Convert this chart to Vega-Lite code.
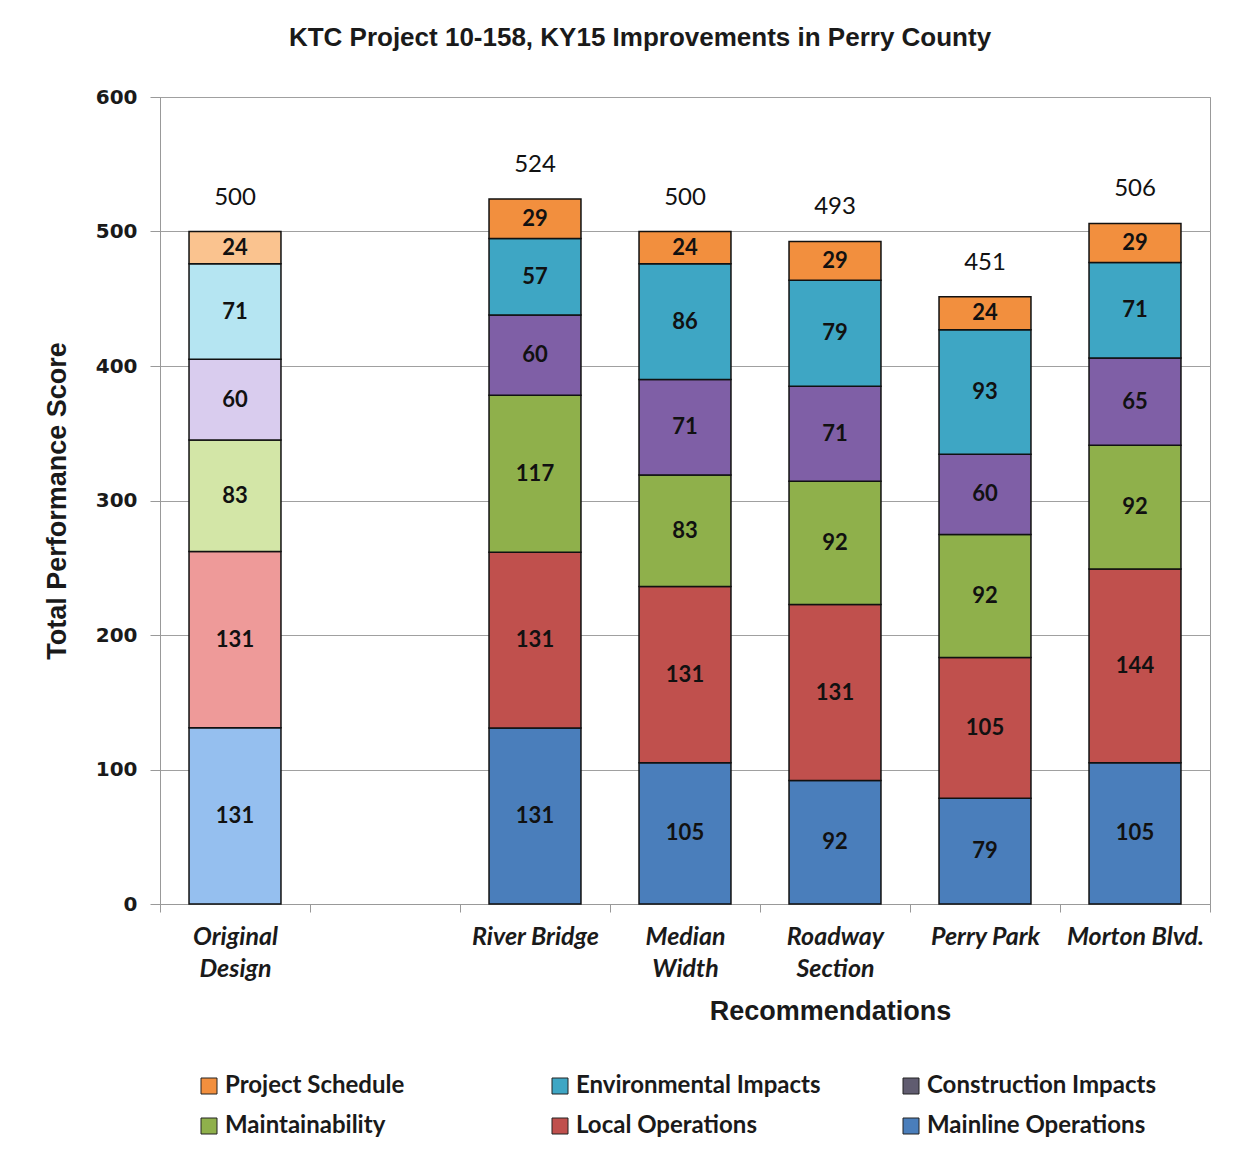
{
  "$schema": "https://vega.github.io/schema/vega-lite/v6.json",
  "width": 1050,
  "height": 807,
  "autosize": {"type": "none"},
  "padding": {"left": 160, "top": 97, "right": 43, "bottom": 250},
  "background": "white",
  "title": {
    "text": "KTC Project 10-158, KY15 Improvements in Perry County",
    "font": "Liberation Sans",
    "fontSize": 26,
    "fontWeight": "bold",
    "color": "#1a1a1a",
    "anchor": "middle",
    "frame": "group",
    "dx": -45,
    "offset": 36
  },
  "data": {
    "values": [
      {"rec": "Original|Design", "component": "Mainline Operations", "value": 131},
      {"rec": "Original|Design", "component": "Local Operations", "value": 131},
      {"rec": "Original|Design", "component": "Maintainability", "value": 83},
      {"rec": "Original|Design", "component": "Construction Impacts", "value": 60},
      {"rec": "Original|Design", "component": "Environmental Impacts", "value": 71},
      {"rec": "Original|Design", "component": "Project Schedule", "value": 24},
      {"rec": "River Bridge", "component": "Mainline Operations", "value": 130.8},
      {"rec": "River Bridge", "component": "Local Operations", "value": 130.8},
      {"rec": "River Bridge", "component": "Maintainability", "value": 116.7},
      {"rec": "River Bridge", "component": "Construction Impacts", "value": 59.7},
      {"rec": "River Bridge", "component": "Environmental Impacts", "value": 56.8},
      {"rec": "River Bridge", "component": "Project Schedule", "value": 29.4},
      {"rec": "Median|Width", "component": "Mainline Operations", "value": 105},
      {"rec": "Median|Width", "component": "Local Operations", "value": 131},
      {"rec": "Median|Width", "component": "Maintainability", "value": 83},
      {"rec": "Median|Width", "component": "Construction Impacts", "value": 71},
      {"rec": "Median|Width", "component": "Environmental Impacts", "value": 86},
      {"rec": "Median|Width", "component": "Project Schedule", "value": 24},
      {"rec": "Roadway|Section", "component": "Mainline Operations", "value": 91.8},
      {"rec": "Roadway|Section", "component": "Local Operations", "value": 130.8},
      {"rec": "Roadway|Section", "component": "Maintainability", "value": 91.7},
      {"rec": "Roadway|Section", "component": "Construction Impacts", "value": 70.7},
      {"rec": "Roadway|Section", "component": "Environmental Impacts", "value": 78.8},
      {"rec": "Roadway|Section", "component": "Project Schedule", "value": 28.8},
      {"rec": "Perry Park", "component": "Mainline Operations", "value": 78.6},
      {"rec": "Perry Park", "component": "Local Operations", "value": 104.6},
      {"rec": "Perry Park", "component": "Maintainability", "value": 91.6},
      {"rec": "Perry Park", "component": "Construction Impacts", "value": 59.6},
      {"rec": "Perry Park", "component": "Environmental Impacts", "value": 92.6},
      {"rec": "Perry Park", "component": "Project Schedule", "value": 24.4},
      {"rec": "Morton Blvd.", "component": "Mainline Operations", "value": 105},
      {"rec": "Morton Blvd.", "component": "Local Operations", "value": 144},
      {"rec": "Morton Blvd.", "component": "Maintainability", "value": 92},
      {"rec": "Morton Blvd.", "component": "Construction Impacts", "value": 65},
      {"rec": "Morton Blvd.", "component": "Environmental Impacts", "value": 71},
      {"rec": "Morton Blvd.", "component": "Project Schedule", "value": 29}
    ]
  },
  "transform": [
    {"calculate": "indexof(['Mainline Operations','Local Operations','Maintainability','Construction Impacts','Environmental Impacts','Project Schedule'], datum.component)", "as": "rank"},
    {"calculate": "datum.rec === 'Original|Design' ? datum.component + '|light' : datum.component + '|dark'", "as": "key"}
  ],
  "encoding": {
    "x": {
      "field": "rec",
      "type": "nominal",
      "sort": null,
      "scale": {
        "domain": ["Original|Design", " ", "River Bridge", "Median|Width", "Roadway|Section", "Perry Park", "Morton Blvd."],
        "paddingInner": 0,
        "paddingOuter": 0
      },
      "axis": {
        "title": "Recommendations",
        "titleFont": "Liberation Sans",
        "titleFontSize": 27,
        "titleFontWeight": "bold",
        "titleColor": "#1a1a1a",
        "titleX": 670,
        "titleY": 107,
        "titleBaseline": "middle",
        "titleAlign": "center",
        "labelExpr": "split(datum.label, '|')",
        "labelFont": "Lato",
        "labelFontStyle": "italic",
        "labelFontWeight": "bold",
        "labelFontSize": 25,
        "labelLineHeight": 32,
        "labelColor": "#1a1a1a",
        "labelAngle": 0,
        "labelPadding": 12,
        "tickSize": 8,
        "tickBand": "extent",
        "domainColor": "#999999",
        "tickColor": "#999999",
        "grid": false
      }
    }
  },
  "layer": [
    {
      "transform": [
        {"stack": "value", "groupby": ["rec"], "sort": [{"field": "rank", "order": "ascending"}], "as": ["y0", "y1"]}
      ],
      "mark": {"type": "bar", "stroke": "#111111", "strokeWidth": 1.5, "width": {"band": 0.613}},
      "encoding": {
        "y": {
          "field": "y0",
          "type": "quantitative",
          "scale": {"domain": [0, 600]},
          "axis": {
            "title": "Total Performance Score",
            "titleFont": "Liberation Sans",
            "titleFontSize": 27,
            "titleFontWeight": "bold",
            "titleColor": "#1a1a1a",
            "titleX": -103,
            "titleBaseline": "middle",
            "values": [0, 100, 200, 300, 400, 500, 600],
            "labelFont": "DejaVu Sans",
            "labelFontWeight": "bold",
            "labelFontSize": 20,
            "labelColor": "#1a1a1a",
            "labelPadding": 13,
            "tickSize": 10,
            "domainColor": "#999999",
            "tickColor": "#999999",
            "grid": true,
            "gridColor": "#a0a0a0"
          }
        },
        "y2": {"field": "y1"},
        "color": {
          "field": "key",
          "type": "nominal",
          "scale": {
            "domain": [
              "Mainline Operations|dark", "Local Operations|dark", "Maintainability|dark", "Construction Impacts|dark", "Environmental Impacts|dark", "Project Schedule|dark",
              "Mainline Operations|light", "Local Operations|light", "Maintainability|light", "Construction Impacts|light", "Environmental Impacts|light", "Project Schedule|light",
              "Construction Impacts|legend"
            ],
            "range": [
              "#4A7EBB", "#C0504D", "#8FB04B", "#7F5FA6", "#3EA6C4", "#F28F3E",
              "#95BFEF", "#EE9A99", "#D3E6A7", "#D9CCEE", "#B5E5F2", "#FAC38F",
              "#605C70"
            ]
          },
          "legend": {
            "orient": "none",
            "legendX": 37,
            "legendY": 977,
            "columns": 3,
            "title": null,
            "values": ["Project Schedule|dark", "Maintainability|dark", "Environmental Impacts|dark", "Local Operations|dark", "Construction Impacts|legend", "Mainline Operations|dark"],
            "labelExpr": "split(datum.label, '|')[0]",
            "symbolType": "square",
            "symbolSize": 256,
            "symbolStrokeColor": "#222222",
            "symbolStrokeWidth": 1,
            "labelFont": "Lato",
            "labelFontWeight": "bold",
            "labelFontSize": 24,
            "labelColor": "#1a1a1a",
            "labelOffset": 4,
            "labelLimit": 0,
            "rowPadding": 16,
            "columnPadding": 78,
            "gridAlign": "all"
          }
        }
      }
    },
    {
      "transform": [
        {"stack": "value", "groupby": ["rec"], "sort": [{"field": "rank", "order": "ascending"}], "as": ["y0", "y1"]},
        {"calculate": "(datum.y0 + datum.y1) / 2", "as": "ymid"}
      ],
      "mark": {"type": "text", "font": "Lato", "fontWeight": "bold", "fontSize": 22, "color": "#111111", "baseline": "middle"},
      "encoding": {
        "y": {"field": "ymid", "type": "quantitative"},
        "text": {"field": "value", "type": "quantitative", "format": ".0f"}
      }
    },
    {
      "transform": [
        {"aggregate": [{"op": "sum", "field": "value", "as": "total"}], "groupby": ["rec"]}
      ],
      "mark": {"type": "text", "font": "Lato", "fontSize": 24, "color": "#111111", "baseline": "middle", "dy": -34},
      "encoding": {
        "y": {"field": "total", "type": "quantitative"},
        "text": {"field": "total", "type": "quantitative", "format": ".0f"}
      }
    }
  ],
  "config": {
    "view": {"stroke": "#999999", "strokeWidth": 1}
  }
}
